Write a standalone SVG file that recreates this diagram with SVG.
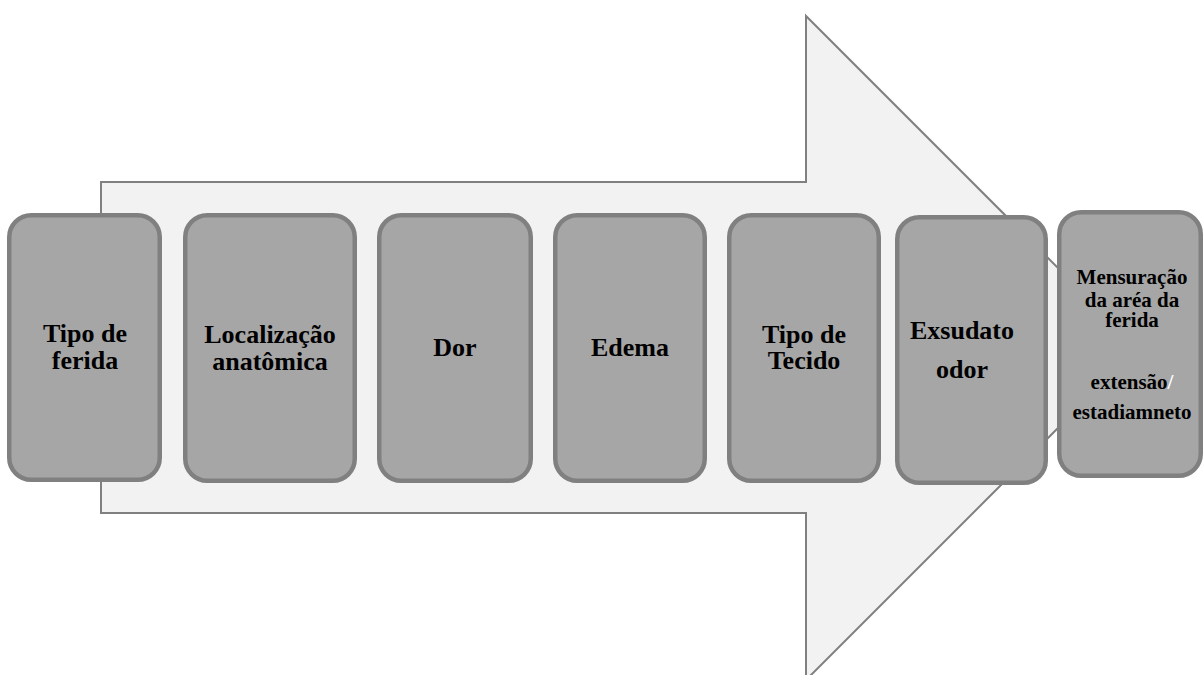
<svg xmlns="http://www.w3.org/2000/svg" width="1203" height="675" viewBox="0 0 1203 675">
<style>
.box{fill:#a6a6a6;stroke:#808080;stroke-width:4.5}
.t{font-family:"Liberation Serif","Times New Roman",serif;font-weight:bold;font-size:26px;fill:#000;text-anchor:middle}
.s{font-size:21px}
</style>
<rect width="1203" height="675" fill="#fff"/>
<g id="arrow">
<polygon points="101,182 806,182 806,16 1138,348 806,680 806,513 101,513" fill="#f2f2f2" stroke="#808080" stroke-width="2"/>
</g>
<g id="connectors"></g>
<g id="n1"><rect class="box" x="9.25" y="215.25" width="150.5" height="264.5" rx="22"/>
<text class="t" x="85" y="342">Tipo de</text><text class="t" x="85" y="369">ferida</text></g>
<g id="n2"><rect class="box" x="185.25" y="215.25" width="169.5" height="265.5" rx="22"/>
<text class="t" x="270" y="343">Localização</text><text class="t" x="270" y="370">anatômica</text></g>
<g id="n3"><rect class="box" x="379.25" y="215.25" width="151.5" height="265.5" rx="22"/>
<text class="t" x="455" y="356">Dor</text></g>
<g id="n4"><rect class="box" x="555.25" y="215.25" width="149.5" height="265.5" rx="22"/>
<text class="t" x="630" y="356">Edema</text></g>
<g id="n5"><rect class="box" x="729.25" y="215.25" width="149.5" height="265.5" rx="22"/>
<text class="t" x="804" y="343">Tipo de</text><text class="t" x="804" y="369">Tecido</text></g>
<g id="n6"><rect class="box" x="897.25" y="217.25" width="148.5" height="265.5" rx="22"/>
<text class="t" x="962" y="339">Exsudato</text><text class="t" x="962" y="378">odor</text></g>
<g id="n7"><rect class="box" x="1059.25" y="212.25" width="141.5" height="263.5" rx="22"/>
<text class="t s" x="1132" y="284">Mensuração</text>
<text class="t s" x="1132" y="307">da aréa da</text>
<text class="t s" x="1132" y="327">ferida</text>
<text class="t s" x="1132" y="389">extensão<tspan fill="#fff">/</tspan></text>
<text class="t s" x="1132" y="419">estadiamneto</text></g>
</svg>
